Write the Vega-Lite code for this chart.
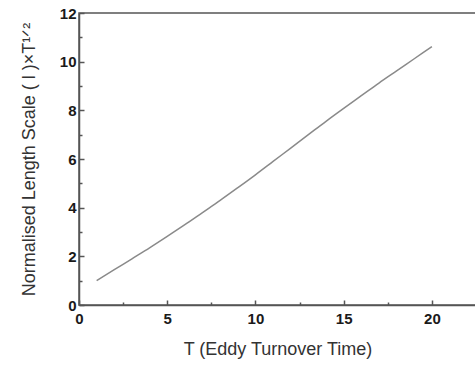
{
  "$schema": "https://vega.github.io/schema/vega-lite/v6.json",
  "width": 397,
  "height": 292,
  "autosize": {"type": "none"},
  "padding": {"left": 79, "top": 13, "right": 0, "bottom": 60},
  "background": "white",
  "config": {
    "view": {"stroke": "#555555", "strokeWidth": 1.5},
    "axis": {
      "labelFont": "Liberation Sans",
      "labelFontWeight": "bold",
      "labelFontSize": 15,
      "labelColor": "#1a1a1a",
      "titleFont": "Liberation Sans",
      "titleFontWeight": "normal",
      "titleFontSize": 18,
      "titleColor": "#333333",
      "domainColor": "#555555",
      "domainWidth": 1.5,
      "tickColor": "#555555",
      "tickWidth": 1.5,
      "grid": false
    }
  },
  "data": {
    "values": [
      {"T": 1, "L": 1.00},
      {"T": 2, "L": 1.45},
      {"T": 3, "L": 1.90},
      {"T": 4, "L": 2.35},
      {"T": 5, "L": 2.82},
      {"T": 6, "L": 3.30},
      {"T": 7, "L": 3.80},
      {"T": 8, "L": 4.30},
      {"T": 9, "L": 4.82},
      {"T": 10, "L": 5.35},
      {"T": 11, "L": 5.90},
      {"T": 12, "L": 6.45},
      {"T": 13, "L": 7.00},
      {"T": 14, "L": 7.55},
      {"T": 15, "L": 8.08},
      {"T": 16, "L": 8.60},
      {"T": 17, "L": 9.12},
      {"T": 18, "L": 9.62},
      {"T": 19, "L": 10.12},
      {"T": 20, "L": 10.62}
    ]
  },
  "mark": {"type": "line", "color": "#8a8a8a", "strokeWidth": 1.5, "interpolate": "monotone", "clip": true},
  "encoding": {
    "x": {
      "field": "T",
      "type": "quantitative",
      "scale": {"domain": [0, 22.5], "nice": false, "zero": false},
      "axis": {
        "title": "T (Eddy Turnover Time)",
        "values": [0, 2.5, 5, 7.5, 10, 12.5, 15, 17.5, 20, 22.5],
        "labelExpr": "datum.value % 5 === 0 ? datum.label : ''",
        "tickSize": {"condition": {"test": "datum.value % 5 === 0", "value": -5}, "value": -3},
        "labelPadding": 11,
        "labelFlush": false,
        "titlePadding": 14
      }
    },
    "y": {
      "field": "L",
      "type": "quantitative",
      "scale": {"domain": [0, 12], "nice": false},
      "axis": {
        "title": "Normalised Length Scale ( l )×T¹ᐟ²",
        "values": [0, 1, 2, 3, 4, 5, 6, 7, 8, 9, 10, 11, 12],
        "labelExpr": "datum.value % 2 === 0 ? datum.label : ''",
        "tickSize": {"condition": {"test": "datum.value % 2 === 0", "value": -5}, "value": -3},
        "labelPadding": 8,
        "labelFlush": false,
        "titlePadding": 21
      }
    }
  }
}
